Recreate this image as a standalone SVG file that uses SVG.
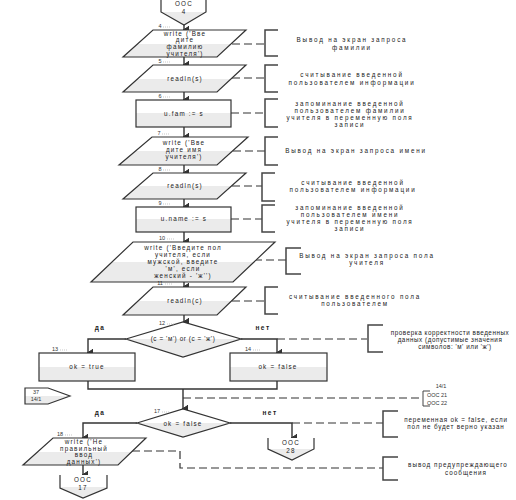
<svg xmlns="http://www.w3.org/2000/svg" width="516" height="500" viewBox="0 0 516 500">
<defs>
<linearGradient id="g" x1="0" y1="0" x2="0" y2="1">
<stop offset="0" stop-color="#ffffff"/><stop offset="0.5" stop-color="#ffffff"/><stop offset="0.5" stop-color="#ebebeb"/><stop offset="1" stop-color="#ebebeb"/>
</linearGradient>
<marker id="a" markerWidth="8" markerHeight="6" refX="4" refY="5" orient="auto-start-reverse" markerUnits="userSpaceOnUse" viewBox="0 0 8 6">
<path d="M0,0.5 H8 M1,1 L4,6 L7,1 Z" fill="#333" stroke="#333" stroke-width="1"/>
</marker>
<style>
.s{fill:url(#g);stroke:#333;stroke-width:1.2}
.t{font-family:"Liberation Sans",Arial,sans-serif;font-size:6.3px;letter-spacing:1.2px;fill:#222;text-anchor:middle}
.c{font-family:"Liberation Sans",Arial,sans-serif;font-size:6.3px;letter-spacing:1.8px;fill:#222;text-anchor:middle}
.n{font-family:"Liberation Sans",Arial,sans-serif;font-size:5.5px;fill:#333;text-anchor:middle}
.y{font-family:"Liberation Sans",Arial,sans-serif;font-size:6.5px;font-weight:bold;letter-spacing:1.5px;fill:#222;text-anchor:middle}
.ln{fill:none;stroke:#333;stroke-width:1.4}
.d{fill:none;stroke:#333;stroke-width:1.2;stroke-dasharray:8 4}
.br{fill:none;stroke:#444;stroke-width:1.5}
.tag{stroke:#bbb;stroke-width:0.8;stroke-dasharray:1 1;fill:none}
</style>
</defs>

<g id="connectors">
<path class="ln" d="M184,25 V30" marker-end="url(#a)"/>
<path class="ln" d="M184,57 V65" marker-end="url(#a)"/>
<path class="ln" d="M184,92 V100" marker-end="url(#a)"/>
<path class="ln" d="M184,127 V137" marker-end="url(#a)"/>
<path class="ln" d="M184,165 V173" marker-end="url(#a)"/>
<path class="ln" d="M184,199 V207" marker-end="url(#a)"/>
<path class="ln" d="M184,232 V242" marker-end="url(#a)"/>
<path class="ln" d="M184,282 V287" marker-end="url(#a)"/>
<path class="ln" d="M184,315 V322" marker-end="url(#a)"/>
<path class="ln" d="M126,339 H88 V353" marker-end="url(#a)"/>
<path class="ln" d="M241,339 H277 V353" marker-end="url(#a)"/>
<path class="ln" d="M88,381 V389 H277 V381"/>
<path class="ln" d="M183,389 V409" marker-end="url(#a)"/>
<path class="ln" d="M137,423 H83 V438" marker-end="url(#a)"/>
<path class="ln" d="M230,423 H292 V438" marker-end="url(#a)"/>
<path class="ln" d="M83,465 V475" marker-end="url(#a)"/>
<path class="d" d="M232,44 H265"/>
<path class="d" d="M232,78 H265"/>
<path class="d" d="M231,113 H265"/>
<path class="d" d="M233,151 H265"/>
<path class="d" d="M232,186 H262"/>
<path class="d" d="M231,219 H262"/>
<path class="d" d="M254,260 H286"/>
<path class="d" d="M232,301 H265"/>
<path class="d" d="M277,339 H367"/>
<path class="d" d="M183,398 H423"/>
<path class="d" d="M292,423 H383"/>
<path class="d" d="M132,451 H180 V468 H383"/>
</g>

<g id="n0">
<path class="s" d="M161,0 V12 L184,25 L206,12 V0"/>
<text class="t" x="184" y="6">ООС</text>
<text class="t" x="184" y="14">4</text>
</g>

<g id="n4">
<polygon class="s" points="153,30 246,30 217,57 123,57"/>
<text class="n" x="160" y="28">4</text><path class="tag" d="M163,27 H170"/>
<text class="t" x="185" y="35.5">write ('Вве</text>
<text class="t" x="185" y="42">дите</text>
<text class="t" x="185" y="49">фамилию</text>
<text class="t" x="185" y="55.5">учителя')</text>
</g>
<g id="c4">
<path class="br" d="M278,30 H265 V56 H278"/>
<text class="c" x="352" y="42">Вывод на экран запроса</text>
<text class="c" x="352" y="50">фамилии</text>
</g>

<g id="n5">
<polygon class="s" points="153,65 246,65 217,92 123,92"/>
<text class="n" x="160" y="63">5</text><path class="tag" d="M163,62 H170"/>
<text class="t" x="185" y="81">readln(s)</text>
</g>
<g id="c5">
<path class="br" d="M278,65 H265 V92 H278"/>
<text class="c" x="352" y="77">считывание введенной</text>
<text class="c" x="352" y="85">пользователем информации</text>
</g>

<g id="n6">
<rect class="s" x="136" y="100" width="95" height="27"/>
<text class="n" x="160" y="98">6</text><path class="tag" d="M163,97 H170"/>
<text class="t" x="184" y="116">u.fam := s</text>
</g>
<g id="c6">
<path class="br" d="M278,99 H265 V127 H278"/>
<text class="c" x="350" y="106">запоминание введенной</text>
<text class="c" x="350" y="113">пользователем фамилии</text>
<text class="c" x="350" y="120">учителя в переменную поля</text>
<text class="c" x="350" y="127">записи</text>
</g>

<g id="n7">
<polygon class="s" points="152,137 248,137 217,165 119,165"/>
<text class="n" x="159" y="135">7</text><path class="tag" d="M162,134 H169"/>
<text class="t" x="184" y="145">write ('Вве</text>
<text class="t" x="184" y="152">дите имя</text>
<text class="t" x="184" y="159">учителя')</text>
</g>
<g id="c7">
<path class="br" d="M278,137 H265 V165 H278"/>
<text class="c" x="356" y="153">Вывод на экран запроса имени</text>
</g>

<g id="n8">
<polygon class="s" points="153,173 246,173 217,199 123,199"/>
<text class="n" x="160" y="171">8</text><path class="tag" d="M163,170 H170"/>
<text class="t" x="185" y="188">readln(s)</text>
</g>
<g id="c8">
<path class="br" d="M275,173 H262 V201 H275"/>
<text class="c" x="353" y="185">считывание введенной</text>
<text class="c" x="353" y="192">пользователем информации</text>
</g>

<g id="n9">
<rect class="s" x="136" y="207" width="95" height="25"/>
<text class="n" x="160" y="205">9</text><path class="tag" d="M163,204 H170"/>
<text class="t" x="184" y="221">u.name := s</text>
</g>
<g id="c9">
<path class="br" d="M275,205 H262 V232 H275"/>
<text class="c" x="350" y="210">запоминание введенной</text>
<text class="c" x="350" y="217">пользователем имени</text>
<text class="c" x="350" y="224">учителя в переменную поля</text>
<text class="c" x="350" y="231">записи</text>
</g>

<g id="n10">
<polygon class="s" points="133,242 275,242 233,282 91,282"/>
<text class="n" x="162" y="240">10</text><path class="tag" d="M167,239 H174"/>
<text class="t" x="183" y="250">write ('Введите пол</text>
<text class="t" x="183" y="257">учителя, если</text>
<text class="t" x="183" y="264">мужской, введите</text>
<text class="t" x="183" y="271">'м', если</text>
<text class="t" x="183" y="278">женский - 'ж'')</text>
</g>
<g id="c10">
<path class="br" d="M301,248 H286 V274 H301"/>
<text class="c" x="367" y="258">Вывод на экран запроса пола</text>
<text class="c" x="367" y="265">учителя</text>
</g>

<g id="n11">
<polygon class="s" points="153,287 246,287 217,315 123,315"/>
<text class="n" x="160" y="285">11</text><path class="tag" d="M165,284 H172"/>
<text class="t" x="185" y="303">readln(c)</text>
</g>
<g id="c11">
<path class="br" d="M278,287 H265 V314 H278"/>
<text class="c" x="355" y="299">считывание введенного пола</text>
<text class="c" x="355" y="306">пользователем</text>
</g>

<g id="n12">
<polygon class="s" points="126,339 183,322 241,339 183,357"/>
<text class="n" x="162" y="325">12</text><path class="tag" d="M167,324 H174"/>
<text class="t" x="183" y="341" style="letter-spacing:0.6px">(c = 'м') or (c = 'ж')</text>
<text class="y" x="100" y="330">да</text>
<text class="y" x="263" y="330">нет</text>
</g>
<g id="c12">
<path class="br" d="M383,325 H368 V352 H383"/>
<text class="c" x="450" y="335" style="letter-spacing:0.55px">проверка корректности введенных</text>
<text class="c" x="450" y="342" style="letter-spacing:0.55px">данных (допустимые значения</text>
<text class="c" x="455" y="349" style="letter-spacing:0.55px">символов: 'м' или 'ж')</text>
</g>

<g id="n13">
<rect class="s" x="39" y="353" width="96" height="28"/>
<text class="n" x="55" y="351">13</text><path class="tag" d="M60,350 H67"/>
<text class="t" x="87" y="369">ok = true</text>
</g>

<g id="n14">
<rect class="s" x="230" y="353" width="97" height="28"/>
<text class="n" x="248" y="351">14</text><path class="tag" d="M253,350 H260"/>
<text class="t" x="278" y="369">ok = false</text>
</g>

<g id="n37">
<path class="s" d="M25,388 H48 L70,396 L48,404 H25 Z"/>
<text class="n" x="36" y="394">37</text>
<text class="n" x="36" y="401">14/1</text>
</g>

<g id="c14">
<path class="br" d="M430,391 H423 V406 H430" style="stroke-width:1"/>
<text class="n" x="441" y="388">14/1</text>
<text class="n" x="427" y="397" style="text-anchor:start">ООС 21</text>
<text class="n" x="427" y="405" style="text-anchor:start">ООС 22</text>
</g>

<g id="n17">
<polygon class="s" points="137,423 183,409 230,423 183,437"/>
<text class="n" x="157" y="413">17</text><path class="tag" d="M162,412 H169"/>
<text class="t" x="183" y="426">ok = false</text>
<text class="y" x="100" y="415">да</text>
<text class="y" x="270" y="415">нет</text>
</g>
<g id="c17">
<path class="br" d="M398,411 H383 V437 H398"/>
<text class="c" x="456" y="422" style="letter-spacing:0.8px">переменная ok = false, если</text>
<text class="c" x="456" y="429" style="letter-spacing:0.8px">пол не будет верно указан</text>
</g>

<g id="n18">
<polygon class="s" points="53,438 146,438 118,465 23,465"/>
<text class="n" x="60" y="436">18</text><path class="tag" d="M65,435 H72"/>
<text class="t" x="84" y="444">write ('Не</text>
<text class="t" x="84" y="450.5">правильный</text>
<text class="t" x="84" y="457">ввод</text>
<text class="t" x="84" y="463.5">данных')</text>
</g>
<g id="c18">
<path class="br" d="M398,457 H383 V480 H398"/>
<text class="c" x="458" y="467" style="letter-spacing:1px">вывод предупреждающего</text>
<text class="c" x="466" y="475" style="letter-spacing:1px">сообщения</text>
</g>

<g id="n19">
<path class="s" d="M60,475 V488 L83,498 L107,488 V475"/>
<text class="t" x="83" y="482">ООС</text>
<text class="t" x="83" y="490">17</text>
</g>

<g id="n20">
<path class="s" d="M268,438 V449 L292,460 L314,449 V438"/>
<text class="t" x="291" y="445">ООС</text>
<text class="t" x="291" y="452.5">28</text>
</g>
</svg>
